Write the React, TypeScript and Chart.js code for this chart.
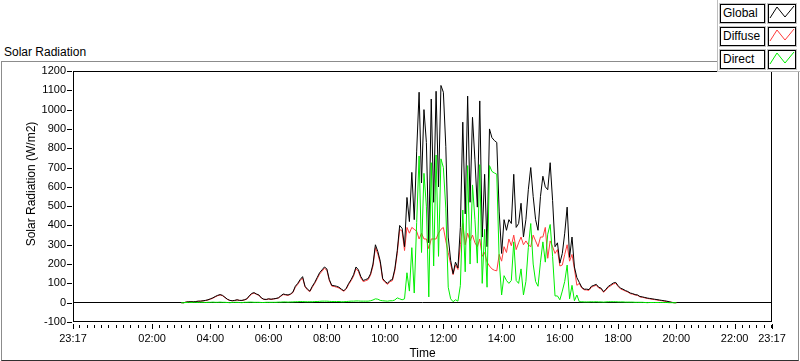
import React, { useEffect, useRef } from "react";
import { Chart, registerables } from "chart.js";

Chart.register(...registerables);

// ---- data ----
const axisStart = "23:17";
const seriesStart = "03:00";
const stepMinutes = 5;

const globalValues = [
  0, 0, 3, 5, 5, 5, 6, 8, 8, 10,
  12, 15, 20, 25, 32, 38, 42, 38, 28, 18,
  12, 10, 12, 15, 12, 12, 15, 20, 35, 48,
  52, 45, 40, 25, 18, 17, 20, 18, 20, 22,
  25, 35, 45, 42, 40, 45, 55, 85, 100, 120,
  135, 85, 70, 60, 85, 105, 130, 155, 170, 185,
  175, 120, 90, 88, 85, 80, 70, 62, 75, 100,
  120, 145, 185, 170, 135, 115, 120, 125, 150, 200,
  300, 265, 215, 125, 110, 100, 115, 120, 175, 270,
  400, 385, 290, 545, 420, 675, 430, 785, 1090, 620,
  1000, 830, 310, 1055, 520, 1095, 600, 1125, 1090, 810,
  340, 220, 150, 210, 180, 390, 935, 460, 1070, 520,
  960, 740, 495, 1045, 340, 665, 290, 900, 855, 840,
  830, 470, 255, 430, 375, 430, 410, 665, 390, 410,
  515, 340, 430, 585, 700, 550, 430, 375, 550, 655,
  600, 585, 725, 530, 290, 310, 205, 255, 360, 495,
  235, 340, 185, 130, 105,
  80, 70, 70, 68, 85, 90, 95, 80, 75, 57,
  70, 85, 93, 102, 105, 88, 75, 70, 63, 58,
  50, 47, 42, 40, 32, 30, 27, 24, 22, 20,
  18, 16, 14, 12, 10, 8, 5, 2, 0, 0,
];

const diffuseValues = [
  0, 0, 3, 5, 5, 5, 6, 7, 8, 9,
  11, 14, 18, 23, 30, 36, 40, 36, 27, 17,
  12, 10, 11, 14, 12, 11, 14, 18, 32, 45,
  50, 43, 38, 24, 17, 16, 19, 17, 19, 21,
  24, 33, 42, 40, 38, 43, 52, 80, 95, 114,
  128, 82, 66, 57, 80, 100, 124, 148, 163, 178,
  168, 115, 86, 84, 80, 76, 67, 59, 71, 95,
  114, 138, 176, 162, 128, 109, 114, 119, 143, 190,
  285, 252, 204, 119, 105, 95, 109, 114, 166, 255,
  380, 370, 270, 390, 360, 390, 380, 370, 330, 360,
  330, 330, 280, 330, 330, 330, 360, 380, 390, 320,
  260, 200, 145, 195, 172, 300, 410, 300, 360, 320,
  350, 310, 290, 330, 240, 260, 210, 190, 175, 168,
  165, 250, 215, 290, 260, 330, 295, 350, 275, 310,
  340, 300, 320, 300, 290, 350, 320, 290, 340, 340,
  390, 230, 320, 290, 255, 275, 190, 195, 250, 300,
  215, 250, 175, 90, 100,
  76, 67, 66, 64, 80, 86, 90, 76, 71, 54,
  66, 80, 88, 97, 100, 84, 71, 66, 60, 55,
  47, 44, 40, 38, 30, 28, 25, 22, 20, 18,
  16, 14, 12, 10, 8, 6, 4, 2, 0, 0,
];

const directValues = [
  0, 0, 1, 2, 1, 2, 2, 1, 2, 2,
  1, 2, 2, 3, 2, 2, 3, 2, 2, 1,
  0, 1, 2, 2, 1, 0, 2, 2, 3, 3,
  2, 2, 2, 1, 1, 2, 2, 2, 2, 2,
  3, 3, 4, 4, 3, 4, 4, 5, 5, 6,
  6, 5, 5, 5, 5, 6, 6, 7, 8, 8,
  8, 7, 6, 6, 6, 6, 5, 5, 6, 7,
  8, 8, 9, 9, 8, 8, 8, 8, 10, 14,
  20, 18, 12, 10, 9, 8, 10, 10, 14, 25,
  20, 15, 20, 155, 60, 285, 50, 415, 760, 260,
  670, 500, 30, 725, 190, 765, 240, 745, 700, 490,
  80, 20, 5, 15, 8, 90, 480, 160, 710, 200,
  610, 430, 205, 715, 100, 380, 80, 710, 680, 672,
  665, 220, 40, 140, 115, 100, 115, 315, 115, 100,
  175, 40, 110, 285, 410, 200, 110, 85, 210, 315,
  210, 355, 405, 240, 35, 35, 15, 60, 110, 195,
  20, 90, 10, 40, 5,
  5, 4, 4, 4, 5, 4, 5, 4, 4, 3,
  4, 5, 5, 5, 5, 4, 4, 4, 3, 3,
  3, 3, 2, 2, 2, 2, 1, 0, 1, 1,
  1, 1, 1, 1, 1, 1, 0, 0, 0, 0,
];

const xTickLabels = [
  "23:17", "02:00", "04:00", "06:00", "08:00", "10:00", "12:00",
  "14:00", "16:00", "18:00", "20:00", "22:00", "23:17",
];
const minorTickMinutes = 15;
const yMin = -100;
const yMax = 1200;
const yStep = 100;

const seriesNames = ["Global", "Diffuse", "Direct"];
const seriesColors = ["#000000", "#ff3b3b", "#00ee00"];

// ---- helpers ----
function clockMinutes(label: string) {
  const [h, m] = label.split(":").map(Number);
  return h * 60 + m;
}
function sinceAxisStart(label: string, isEnd = false) {
  let d = clockMinutes(label) - clockMinutes(axisStart);
  if (d < 0) d += 1440;
  if (isEnd && d === 0) d = 1440;
  return d;
}
const majorTickValues = xTickLabels.map((l, i) =>
  sinceAxisStart(l, i === xTickLabels.length - 1)
);
const seriesOffset = sinceAxisStart(seriesStart);
function toPoints(vals: number[]) {
  return vals.map((v, i) => ({ x: seriesOffset + i * stepMinutes, y: v }));
}

const FONT = "'Liberation Sans', Arial, sans-serif";

const framePlugin = {
  id: "labviewFrame",
  afterDraw(chart: any) {
    const { ctx, chartArea } = chart;
    const xs = chart.scales.x;
    const ys = chart.scales.y;
    ctx.save();
    ctx.strokeStyle = "#000";
    ctx.lineWidth = 1;
    ctx.strokeRect(
      Math.round(chartArea.left) + 0.5,
      Math.round(chartArea.top) + 0.5,
      Math.round(chartArea.right - chartArea.left) - 1,
      Math.round(chartArea.bottom - chartArea.top) - 1
    );
    ctx.beginPath();
    for (let v = yMin; v <= yMax; v += yStep) {
      const y = Math.round(ys.getPixelForValue(v)) + 0.5;
      ctx.moveTo(chartArea.left - 6, y);
      ctx.lineTo(chartArea.left - 1, y);
    }
    const yb = Math.round(chartArea.bottom);
    for (const v of majorTickValues) {
      const x = Math.round(xs.getPixelForValue(v)) + 0.5;
      ctx.moveTo(x, yb + 2);
      ctx.lineTo(x, yb + 7);
    }
    const startClock = clockMinutes(axisStart);
    let first = Math.ceil(startClock / minorTickMinutes) * minorTickMinutes - startClock;
    for (let m = first; m < 1440; m += minorTickMinutes) {
      if (majorTickValues.includes(m)) continue;
      const x = Math.round(xs.getPixelForValue(m)) + 0.5;
      ctx.moveTo(x, yb + 3);
      ctx.lineTo(x, yb + 6);
    }
    ctx.stroke();
    ctx.restore();
  },
};

function LegendItem({ name, color, top }: { name: string; color: string; top: number }) {
  return (
    <>
      <div
        style={{
          position: "absolute",
          left: 720,
          top,
          width: 41,
          height: 15,
          border: "1px solid #000",
          outline: "1px solid #c4c4c4",
          background: "#fff",
          fontSize: 12,
          lineHeight: "12px",
          paddingTop: 2,
          paddingLeft: 2,
          boxSizing: "content-box",
          whiteSpace: "nowrap",
        }}
      >
        <span style={{ position: "relative", top: 0 }}>{name}</span>
      </div>
      <div
        style={{
          position: "absolute",
          left: 768,
          top,
          width: 26,
          height: 15,
          border: "1px solid #000",
          outline: "1px solid #c4c4c4",
          background: "#fff",
          paddingTop: 2,
          boxSizing: "content-box",
        }}
      >
        <svg width={26} height={15} style={{ position: "absolute", left: 0, top: 0 }}>
          <polyline
            points="1,13 8,2 16,12 25,1"
            fill="none"
            stroke={color}
            strokeWidth={1}
          />
        </svg>
      </div>
    </>
  );
}

export default function App() {
  const canvasRef = useRef<HTMLCanvasElement | null>(null);

  useEffect(() => {
    if (!canvasRef.current) return;
    const datasets = [globalValues, diffuseValues, directValues].map((vals, k) => ({
      label: seriesNames[k],
      data: toPoints(vals),
      borderColor: seriesColors[k],
      backgroundColor: seriesColors[k],
      borderWidth: 1,
      pointRadius: 0,
      tension: 0,
      fill: false,
      order: k === 2 ? 0 : k === 0 ? 1 : 2,
    }));
    const chart = new Chart(canvasRef.current, {
      type: "line",
      data: { datasets },
      plugins: [framePlugin],
      options: {
        animation: false,
        responsive: false,
        devicePixelRatio: 1,
        parsing: true,
        layout: { padding: { top: 71, right: 28, left: 0, bottom: 0 } },
        plugins: { legend: { display: false }, tooltip: { enabled: false }, title: { display: false } },
        scales: {
          x: {
            type: "linear",
            min: 0,
            max: 1440,
            afterBuildTicks: (s: any) => {
              s.ticks = majorTickValues.map((v) => ({ value: v }));
            },
            afterFit: (s: any) => {
              s.height = 39;
            },
            ticks: {
              autoSkip: false,
              maxRotation: 0,
              minRotation: 0,
              padding: 10,
              color: "#000",
              font: { family: FONT, size: 11 },
              callback: (_v: any, i: number) => xTickLabels[i],
            },
            grid: { display: false, drawTicks: false },
            border: { display: false },
          },
          y: {
            type: "linear",
            min: yMin,
            max: yMax,
            afterFit: (s: any) => {
              s.width = 73;
            },
            ticks: {
              stepSize: yStep,
              padding: 7,
              color: "#000",
              font: { family: FONT, size: 11 },
              callback: (v: any) => String(v),
            },
            grid: {
              drawTicks: false,
              lineWidth: 1,
              color: (c: any) => (c.tick && c.tick.value === 0 ? "#000" : "rgba(0,0,0,0)"),
            },
            border: { display: false },
          },
        },
      },
    });
    return () => chart.destroy();
  }, []);

  return (
    <div
      style={{
        position: "absolute",
        left: 0,
        top: 0,
        width: 800,
        height: 361,
        background: "#fff",
        fontFamily: FONT,
        color: "#000",
        overflow: "hidden",
      }}
    >
      <div
        style={{
          position: "absolute",
          left: 1,
          top: 61,
          width: 796,
          height: 298,
          borderTop: "1px solid #8c8c8c",
          borderLeft: "1px solid #8c8c8c",
          borderRight: "1px solid #8c8c8c",
          borderBottom: "1px solid #303030",
        }}
      />
      <div
        style={{
          position: "absolute",
          left: 4,
          top: 46,
          fontSize: 12,
          lineHeight: "12px",
          whiteSpace: "nowrap",
        }}
      >
        Solar Radiation
      </div>
      <canvas
        ref={canvasRef}
        width={800}
        height={361}
        style={{ position: "absolute", left: 0, top: 0, width: 800, height: 361 }}
      />
      <div
        style={{
          position: "absolute",
          left: 0,
          top: 347,
          width: 845,
          textAlign: "center",
          fontSize: 12,
          lineHeight: "12px",
        }}
      >
        Time
      </div>
      <div
        style={{
          position: "absolute",
          left: 31 - 100,
          top: 184 - 6,
          width: 200,
          height: 12,
          textAlign: "center",
          fontSize: 12,
          lineHeight: "12px",
          whiteSpace: "nowrap",
          transform: "rotate(-90deg)",
          transformOrigin: "50% 50%",
        }}
      >
        Solar Radiation (W/m2)
      </div>
      <div
        style={{
          position: "absolute",
          left: 717,
          top: 0,
          width: 83,
          height: 71,
          background: "#fff",
          borderLeft: "1px solid #bdbdbd",
          borderBottom: "1px solid #bdbdbd",
        }}
      />
      {seriesNames.map((n, k) => (
        <LegendItem key={n} name={n} color={seriesColors[k]} top={4 + k * 23} />
      ))}
    </div>
  );
}
